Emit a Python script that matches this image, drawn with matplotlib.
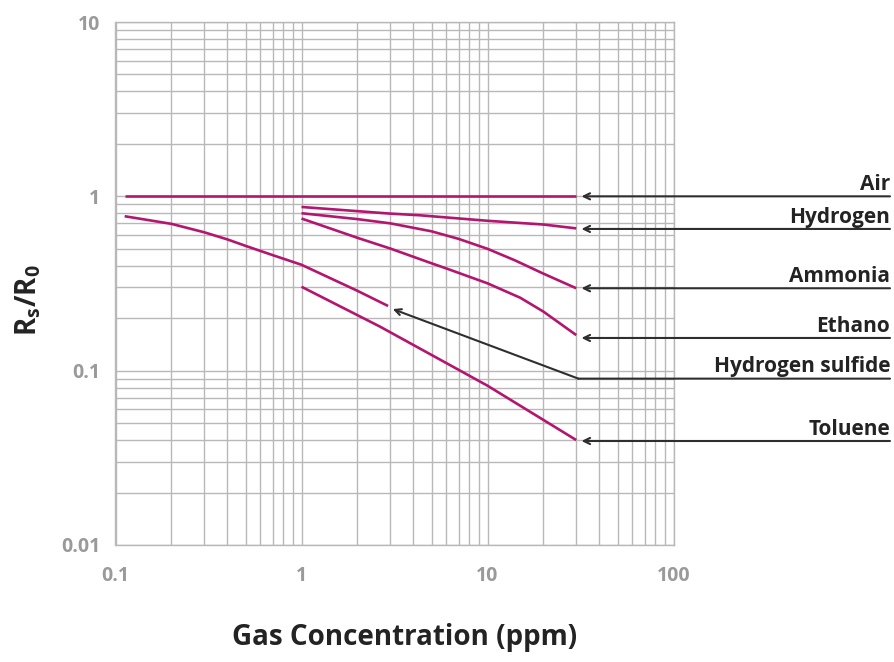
import matplotlib.pyplot as plt
from matplotlib.ticker import LogLocator, NullFormatter

# Sensitivity curves (ppm, Rs/R0)
air_x = [0.112, 30]
air_y = [1.0, 1.0]

hydrogen_x = [1, 3, 4.3, 10, 20, 30]
hydrogen_y = [0.869, 0.796, 0.779, 0.724, 0.689, 0.655]

ammonia_x = [1, 2, 3, 5, 7, 10, 14, 20, 30]
ammonia_y = [0.80, 0.74, 0.70, 0.63, 0.57, 0.50, 0.43, 0.36, 0.297]

ethano_x = [1, 2, 3, 5, 6, 10, 15, 20, 30]
ethano_y = [0.746, 0.578, 0.502, 0.413, 0.386, 0.317, 0.262, 0.218, 0.16]

h2s_x = [0.112, 0.2, 0.3, 0.4, 0.5, 0.7, 1, 2, 2.92]
h2s_y = [0.769, 0.695, 0.622, 0.566, 0.520, 0.46, 0.405, 0.287, 0.235]

toluene_x = [1, 2.64, 10, 30]
toluene_y = [0.303, 0.179, 0.082, 0.040]

labels = ['Air', 'Hydrogen', 'Ammonia', 'Ethano', 'Hydrogen sulfide', 'Toluene']
label_levels = [1.0, 0.65, 0.297, 0.154, 0.090, 0.0395]
x_ticks = [0.1, 1, 10, 100]
x_tick_labels = ['0.1', '1', '10', '100']
y_ticks = [0.01, 0.1, 1, 10]
y_tick_labels = ['0.01', '0.1', '1', '10']

line_color = '#b3166f'
grid_color = '#b8b8b8'
tick_color = '#9a9a9a'
arrow_color = '#2e2e2e'
text_color = '#232323'

plt.rcParams['font.family'] = ['Open Sans', 'DejaVu Sans']
plt.rcParams['mathtext.fontset'] = 'custom'
plt.rcParams['mathtext.rm'] = 'Open Sans'
plt.rcParams['mathtext.bf'] = 'Open Sans:bold'

fig = plt.figure(figsize=(8.95, 6.62), dpi=100)
ax = fig.add_axes([115.5 / 895, 1 - 545 / 662, 558 / 895, 523 / 662])
ax.set_xscale('log')
ax.set_yscale('log')
ax.set_xlim(0.1, 100)
ax.set_ylim(0.01, 10)

series = [(air_x, air_y), (hydrogen_x, hydrogen_y), (ammonia_x, ammonia_y),
          (ethano_x, ethano_y), (h2s_x, h2s_y), (toluene_x, toluene_y)]
for xs, ys in series:
    ax.plot(xs, ys, color=line_color, lw=1.9, solid_capstyle='butt',
            solid_joinstyle='round', zorder=3)

# grid
ax.xaxis.set_minor_locator(LogLocator(base=10, subs=range(2, 10)))
ax.yaxis.set_minor_locator(LogLocator(base=10, subs=range(2, 10)))
ax.xaxis.set_minor_formatter(NullFormatter())
ax.yaxis.set_minor_formatter(NullFormatter())
ax.grid(True, which='both', color=grid_color, lw=1.0)
for s in ax.spines.values():
    s.set_color(grid_color)
    s.set_linewidth(1.0)
ax.tick_params(which='both', length=0)
ax.set_xticks(x_ticks, x_tick_labels)
ax.set_yticks(y_ticks, y_tick_labels)
ax.tick_params(axis='x', pad=15, labelsize=14, labelcolor=tick_color)
ax.tick_params(axis='y', pad=11, labelsize=14, labelcolor=tick_color)
for t in ax.get_xticklabels() + ax.get_yticklabels():
    t.set_fontweight('bold')

fig.text(405 / 895, 1 - 638 / 662, 'Gas Concentration (ppm)', fontsize=20,
         fontweight='bold', color=text_color, ha='center', va='center')
fig.text(28 / 895, 1 - 300 / 662, r'$\mathbf{R_s/R_0}$', fontsize=20,
         color=text_color, rotation=90, ha='center', va='center')

# labels with leader arrows on the right
right = (890 - 115.5) / 558
arrow_props = dict(arrowstyle='->,head_length=0.45,head_width=0.22',
                   color=arrow_color, lw=1.5, shrinkA=0, shrinkB=0)
tip_x = 32
corner_x = 30.8
for name, yv in zip(labels, label_levels):
    if name == 'Hydrogen sulfide':
        ax.annotate('', xy=(corner_x, yv), xycoords='data',
                    xytext=(right, yv), textcoords=ax.get_yaxis_transform(),
                    arrowprops=dict(arrowstyle='-', color=arrow_color, lw=1.5,
                                    shrinkA=0, shrinkB=0), annotation_clip=False)
        ax.annotate('', xy=(h2s_x[-1] * 1.06, h2s_y[-1] * 0.96), xycoords='data',
                    xytext=(corner_x, yv), textcoords='data',
                    arrowprops=arrow_props, annotation_clip=False)
    else:
        ax.annotate('', xy=(tip_x, yv), xycoords='data',
                    xytext=(right, yv), textcoords=ax.get_yaxis_transform(),
                    arrowprops=arrow_props, annotation_clip=False)
    ax.annotate(name, xy=(right, yv), xycoords=ax.get_yaxis_transform(),
                xytext=(0, 4.5), textcoords='offset points', ha='right', va='baseline',
                fontsize=15, fontweight='bold', color=text_color,
                annotation_clip=False)

fig.savefig('out.png', dpi=100)
